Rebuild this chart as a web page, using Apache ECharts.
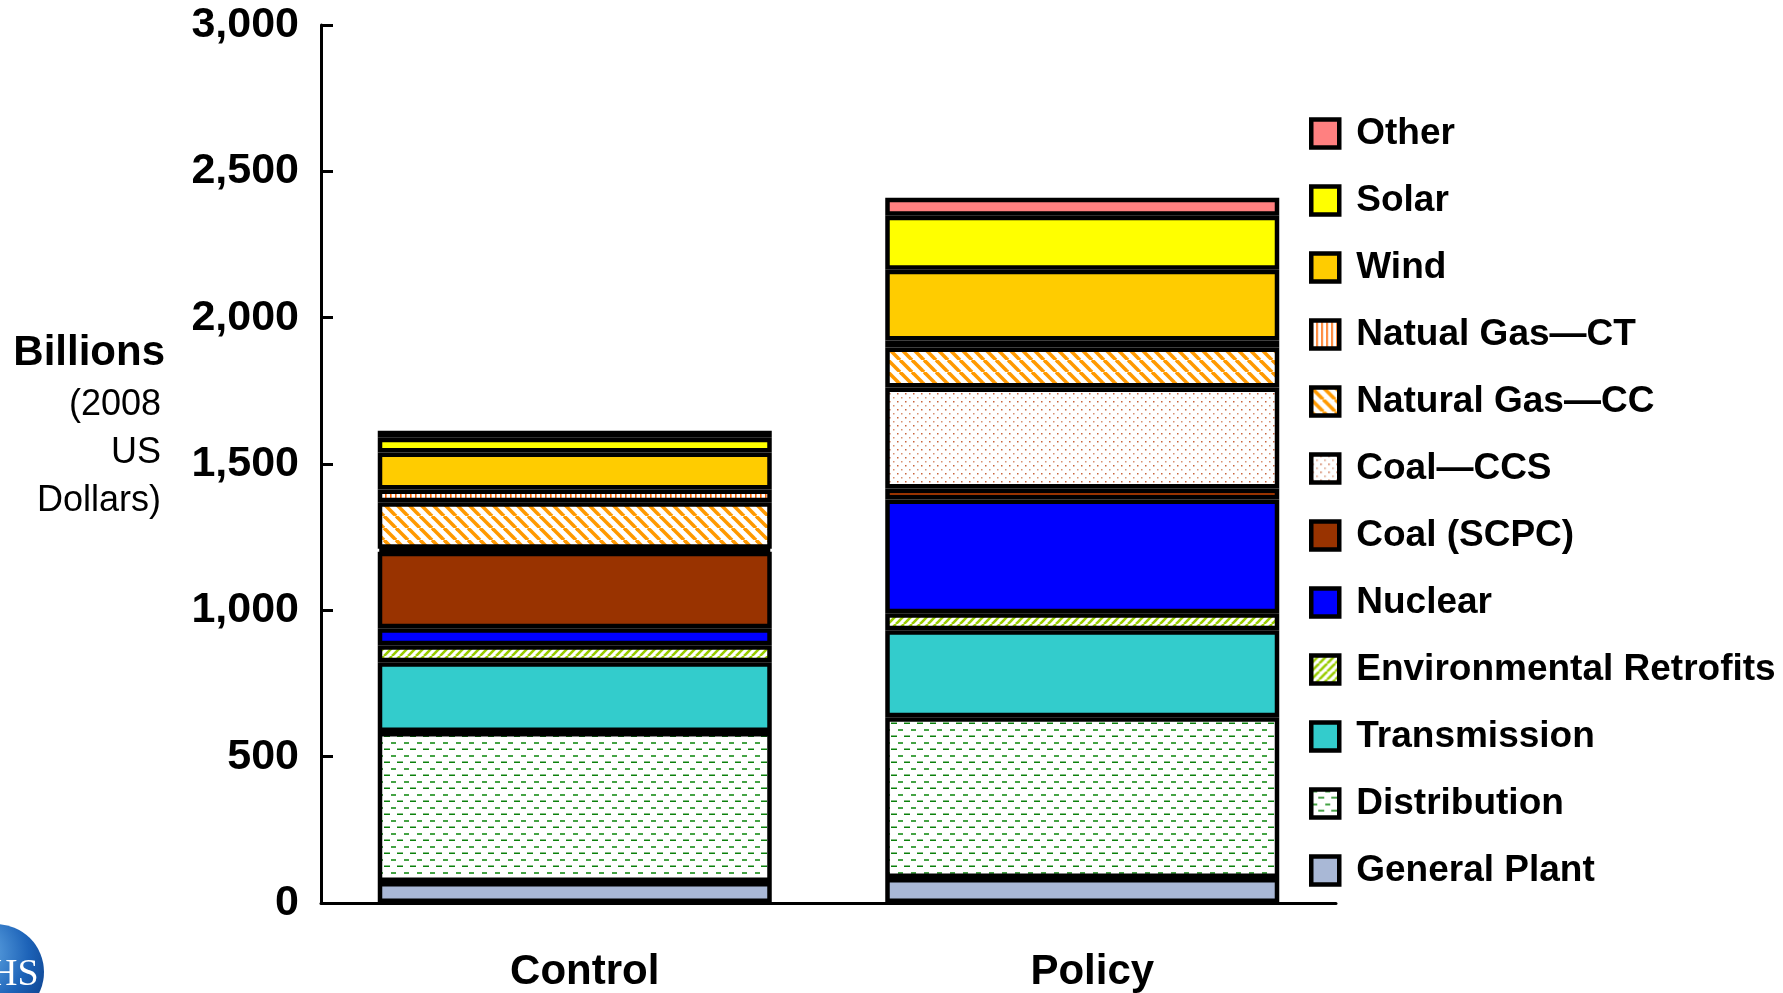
<!DOCTYPE html>
<html>
<head>
<meta charset="utf-8">
<script src="https://cdn.jsdelivr.net/npm/echarts@6/dist/echarts.min.js"></script>
<style>
html,body{margin:0;padding:0;background:#fff;}
#chart{width:1783px;height:993px;}
</style>
</head>
<body>
<div id="chart"></div>
<script>
// ---- data (Billions, 2008 US Dollars) ----
const categories = ['Control', 'Policy'];
const generalPlant = [72, 85];
const distribution = [512, 550];
const transmission = [239, 297];
const envRetrofits = [58, 58];
const nuclear = [58, 389];
const coalSCPC = [261, 37];
const coalCCS = [10, 345];
const naturalGasCC = [159, 137];
const naturalGasCT = [44, 24];
const wind = [126, 242];
const solar = [51, 184];
const other = [24, 62];
const yTicks = [0, 500, 1000, 1500, 2000, 2500, 3000];

// ---- patterns ----
function tile(w, h, draw) {
  const c = document.createElement('canvas');
  c.width = w; c.height = h;
  const ctx = c.getContext('2d');
  ctx.fillStyle = '#ffffff';
  ctx.fillRect(0, 0, w, h);
  draw(ctx, w, h);
  return { image: c, repeat: 'repeat' };
}
const patDistribution = tile(13, 13, (ctx) => {
  ctx.fillStyle = '#45a345';
  ctx.fillRect(1, 1, 5, 2);
  ctx.fillStyle = '#0c800c';
  ctx.fillRect(7, 7.5, 6, 1.5);
});
const patEnv = tile(8, 8, (ctx) => {
  ctx.strokeStyle = '#99cc00';
  ctx.lineWidth = 2.6;
  for (const o of [-8, 0, 8]) {
    ctx.beginPath(); ctx.moveTo(o, 8); ctx.lineTo(o + 8, 0); ctx.stroke();
  }
});
const patNGCC = tile(12, 12, (ctx) => {
  ctx.strokeStyle = '#ff9900';
  ctx.lineWidth = 3.6;
  for (const o of [-12, 0, 12]) {
    ctx.beginPath(); ctx.moveTo(o, 0); ctx.lineTo(o + 12, 12); ctx.stroke();
  }
});
const patNGCT = tile(5, 4, (ctx) => {
  ctx.fillStyle = '#ff6600';
  ctx.fillRect(0, 0, 1.6, 4);
});
const patCCS = tile(8, 8, (ctx) => {
  ctx.fillStyle = '#c8643c';
  ctx.fillRect(1, 1, 1.5, 1.5);
  ctx.fillStyle = '#d89070';
  ctx.fillRect(5, 5, 1.5, 1.5);
});

const seriesDefs = [
  ['General Plant', generalPlant, '#a9b8d6'],
  ['Distribution', distribution, patDistribution],
  ['Transmission', transmission, '#33cccc'],
  ['Environmental Retrofits', envRetrofits, patEnv],
  ['Nuclear', nuclear, '#0000ff'],
  ['Coal (SCPC)', coalSCPC, '#993300'],
  ['Coal\u2014CCS', coalCCS, patCCS],
  ['Natural Gas\u2014CC', naturalGasCC, patNGCC],
  ['Natual Gas\u2014CT', naturalGasCT, patNGCT],
  ['Wind', wind, '#ffcc00'],
  ['Solar', solar, '#ffff00'],
  ['Other', other, '#ff8080']
];

const FONT = "'Liberation Sans', Arial, sans-serif";

const series = seriesDefs.map(([name, data, color]) => ({
  name: name,
  type: 'bar',
  stack: 'total',
  data: data,
  barWidth: 394,
  itemStyle: { color: color, borderColor: '#000', borderWidth: 4.5 },
  emphasis: { disabled: true }
}));

const chart = echarts.init(document.getElementById('chart'), null, { renderer: 'canvas' });
chart.setOption({
  animation: false,
  backgroundColor: '#ffffff',
  grid: { left: 321, right: 447, top: 25, bottom: 89, containLabel: false },
  legend: {
    orient: 'vertical',
    left: 1304,
    top: 110,
    icon: 'rect',
    itemWidth: 28,
    itemHeight: 28,
    itemGap: 30,
    data: seriesDefs.map(d => d[0]).reverse(),
    itemStyle: { borderColor: '#000', borderWidth: 4.5 },
    selectedMode: false,
    textStyle: {
      fontFamily: FONT, fontWeight: 'bold', fontSize: 37, color: '#000',
      padding: [0, 0, 0, 12]
    }
  },
  xAxis: {
    type: 'category',
    data: categories,
    axisLine: { lineStyle: { color: '#000', width: 3 } },
    axisTick: { show: false },
    axisLabel: {
      fontFamily: FONT, fontWeight: 'bold', fontSize: 42, color: '#000',
      margin: 48, padding: [0, 0, 0, 20]
    }
  },
  yAxis: {
    type: 'value',
    min: 0, max: 3000, interval: 500,
    splitLine: { show: false },
    axisLine: { show: true, lineStyle: { color: '#000', width: 3 } },
    axisTick: { show: true, inside: true, length: 12, lineStyle: { color: '#000', width: 3 } },
    axisLabel: {
      fontFamily: FONT, fontWeight: 'bold', fontSize: 43, color: '#000', margin: 22,
      padding: [6, 0, 0, 0],
      formatter: v => yTicks.includes(v) ? v.toLocaleString('en-US') : ''
    }
  },
  graphic: [
    { type: 'text', x: 165, y: 353, style: { text: 'Billions', textAlign: 'right', textVerticalAlign: 'middle', font: "bold 42px 'Liberation Sans', Arial, sans-serif", fill: '#000' } },
    { type: 'text', x: 161, y: 405, style: { text: '(2008', textAlign: 'right', textVerticalAlign: 'middle', font: "36px 'Liberation Sans', Arial, sans-serif", fill: '#000' } },
    { type: 'text', x: 161, y: 453, style: { text: 'US', textAlign: 'right', textVerticalAlign: 'middle', font: "36px 'Liberation Sans', Arial, sans-serif", fill: '#000' } },
    { type: 'text', x: 161, y: 501, style: { text: 'Dollars)', textAlign: 'right', textVerticalAlign: 'middle', font: "36px 'Liberation Sans', Arial, sans-serif", fill: '#000' } },
    { type: 'circle', shape: { cx: -4, cy: 972, r: 48 }, style: { fill: new echarts.graphic.RadialGradient(0.3, 0.3, 0.9, [{ offset: 0, color: '#6fb4ec' }, { offset: 0.6, color: '#1d63b8' }, { offset: 1, color: '#0a3b86' }]) } },
    { type: 'text', x: 8, y: 975, style: { text: 'IHS', textAlign: 'center', textVerticalAlign: 'middle', font: "38px 'Liberation Serif', serif", fill: '#fff' } }
  ],
  series: series
});
</script>
</body>
</html>
